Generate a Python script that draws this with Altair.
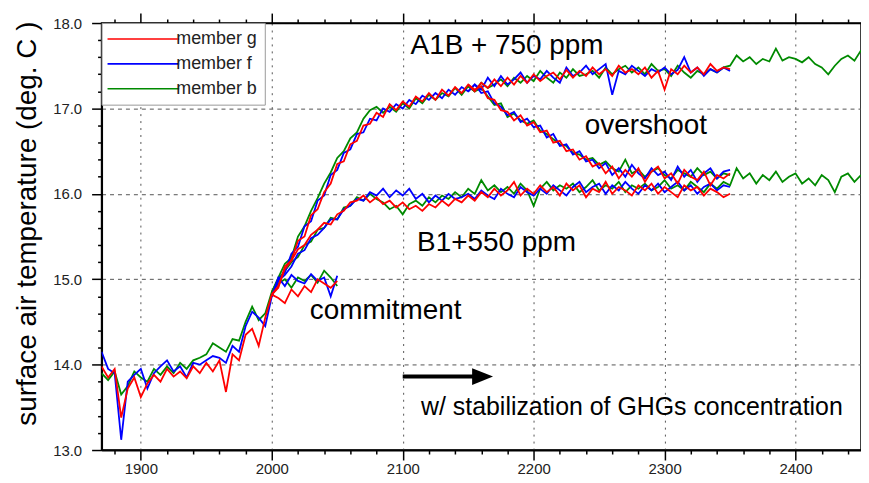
import altair as alt
import pandas as pd

# ---------------- data ----------------
member_order = ["member g", "member f", "member b"]
member_colors = ["#ff0000", "#0000ff", "#008a00"]

hist_years = list(range(1870, 2001, 5))
scen_years = list(range(2000, 2351, 5))
ext_years = list(range(2000, 2451, 5))
commit_years = list(range(2000, 2051, 5))
over_years = list(range(2150, 2351, 5))

# historical run 1870-2000
hist_g = [13.98, 13.85, 13.95, 13.38, 13.72, 13.85, 13.62, 13.78, 13.88, 13.80,
          13.95, 13.86, 13.92, 13.84, 13.98, 13.90, 14.02, 13.92, 14.05, 13.68,
          14.12, 14.05, 14.35, 14.42, 14.22, 14.55, 14.82]
hist_f = [14.15, 13.95, 13.90, 13.12, 13.80, 13.88, 13.95, 13.72, 13.90, 13.98,
          14.05, 13.92, 13.98, 13.85, 14.02, 14.00, 14.05, 14.10, 14.08, 14.02,
          14.22, 14.15, 14.45, 14.62, 14.55, 14.45, 14.80]
hist_b = [13.90, 13.82, 13.92, 13.65, 13.75, 13.92, 13.85, 13.80, 13.95, 13.88,
          13.98, 13.90, 14.02, 13.95, 14.05, 14.08, 14.12, 14.25, 14.20, 14.15,
          14.30, 14.28, 14.50, 14.68, 14.52, 14.60, 14.85]

# commitment 2000-2050
commit_g = [14.82, 14.78, 14.72, 14.88, 14.80, 14.92, 14.85, 15.00, 14.95, 14.90, 14.98]
commit_f = [14.80, 15.02, 14.92, 15.05, 14.98, 14.95, 15.06, 14.98, 15.02, 14.80, 15.04]
commit_b = [14.85, 14.95, 15.00, 14.90, 15.02, 14.98, 15.05, 14.96, 15.10, 15.02, 14.92]

# A1B + 750 ppm 2000-2350 (member b to 2450)
a1b_g = [14.82, 14.90, 15.15, 15.22, 15.45, 15.50, 15.75, 15.82, 16.02, 16.12,
         16.35, 16.38, 16.58, 16.62, 16.80, 16.82, 16.95, 16.90, 17.05, 16.98,
         17.08, 17.02, 17.14, 17.08, 17.18, 17.10, 17.22, 17.15, 17.25, 17.18,
         17.28, 17.20, 17.30, 17.24, 17.34, 17.26, 17.36, 17.28, 17.38, 17.30,
         17.40, 17.32, 17.38, 17.42, 17.34, 17.45, 17.36, 17.44, 17.38, 17.48,
         17.40, 17.46, 17.38, 17.50, 17.42, 17.46, 17.40, 17.48, 17.36, 17.44,
         17.22, 17.46, 17.40, 17.50, 17.42, 17.48, 17.40, 17.52, 17.44, 17.48,
         17.46]
a1b_f = [14.80, 15.00, 15.08, 15.30, 15.38, 15.62, 15.68, 15.92, 15.98, 16.22,
         16.28, 16.48, 16.52, 16.70, 16.72, 16.88, 16.86, 17.00, 16.96, 17.05,
         17.00, 17.10, 17.05, 17.15, 17.10, 17.18, 17.12, 17.22, 17.16, 17.25,
         17.20, 17.28, 17.22, 17.36, 17.26, 17.38, 17.28, 17.34, 17.42, 17.30,
         17.38, 17.34, 17.44, 17.36, 17.30, 17.48, 17.38, 17.42, 17.50, 17.40,
         17.46, 17.52, 17.16, 17.44, 17.40, 17.50, 17.44, 17.38, 17.46, 17.42,
         17.48, 17.40, 17.45, 17.60, 17.42, 17.48, 17.38, 17.46, 17.42, 17.48,
         17.44]
a1b_b = [14.85, 15.02, 15.18, 15.25, 15.50, 15.62, 15.80, 15.95, 16.12, 16.25,
         16.42, 16.50, 16.65, 16.72, 16.88, 16.98, 17.02, 16.95, 17.02, 16.96,
         17.06, 17.00, 17.12, 17.06, 17.16, 17.10, 17.18, 17.14, 17.24, 17.16,
         17.26, 17.20, 17.30, 17.24, 17.28, 17.34, 17.26, 17.36, 17.30, 17.38,
         17.32, 17.44, 17.36, 17.30, 17.42, 17.36, 17.46, 17.38, 17.40, 17.44,
         17.36, 17.48, 17.40, 17.46, 17.50, 17.42, 17.48, 17.40, 17.52, 17.44,
         17.46, 17.38, 17.50, 17.42, 17.36, 17.44, 17.40, 17.46, 17.42, 17.48,
         17.50, 17.62, 17.55, 17.60, 17.52, 17.58, 17.55, 17.70, 17.56, 17.60,
         17.58, 17.54, 17.60, 17.52, 17.48, 17.40, 17.50, 17.58, 17.62, 17.56,
         17.68]

# B1 + 550 ppm 2000-2350 (member b to 2450)
b1_g = [14.82, 14.92, 15.12, 15.22, 15.35, 15.40, 15.52, 15.58, 15.66, 15.64,
        15.76, 15.80, 15.90, 15.92, 15.98, 15.90, 15.96, 15.88, 15.92, 15.84,
        15.90, 15.82, 15.86, 15.80, 15.88, 15.84, 15.92, 15.86, 15.94, 15.90,
        15.98, 15.92, 16.02, 15.96, 16.06, 15.98, 16.04, 16.14, 15.98, 16.06,
        16.00, 16.10, 16.02, 16.08, 15.98, 16.12, 16.04, 16.10, 15.96, 16.06,
        16.02, 16.14, 16.00, 16.08, 16.04, 15.98, 16.10, 16.04, 16.12, 16.00,
        16.08, 16.02, 15.96, 16.10, 16.04, 16.08, 15.98, 16.06, 16.02, 15.96,
        16.00]
b1_f = [14.80, 14.98, 15.05, 15.15, 15.30, 15.34, 15.48, 15.52, 15.60, 15.70,
        15.70, 15.82, 15.86, 15.94, 15.92, 16.02, 15.98, 16.06, 15.96, 16.04,
        15.98, 16.06, 15.94, 16.00, 15.90, 15.98, 15.92, 16.00, 15.94, 15.96,
        16.00, 15.94, 16.04, 15.98, 15.94, 16.06, 16.00, 15.96, 16.08, 16.02,
        15.98, 16.06, 16.00, 16.10, 16.04, 15.98, 16.08, 16.14, 16.02, 16.08,
        16.12, 16.00, 16.10, 16.04, 16.14, 16.06, 16.00, 16.10, 16.04, 16.12,
        16.02, 16.08, 16.14, 16.04, 16.10, 16.00, 16.08, 16.12, 16.04, 16.10,
        16.08]
b1_b = [14.85, 15.00, 15.10, 15.20, 15.26, 15.40, 15.44, 15.58, 15.60, 15.72,
        15.70, 15.84, 15.86, 15.96, 15.92, 16.00, 15.94, 15.90, 15.82, 15.86,
        15.76, 15.88, 15.92, 15.86, 15.96, 15.90, 15.98, 15.94, 16.02, 15.96,
        16.06, 16.00, 16.16, 16.04, 16.10, 16.02, 16.08, 16.00, 16.12, 16.04,
        15.86, 16.06, 16.14, 16.04, 16.10, 16.06, 16.12, 16.02, 16.08, 16.16,
        16.04, 16.10, 16.06, 16.14, 16.02, 16.10, 16.06, 16.12, 16.04, 16.08,
        16.16, 16.06, 16.10, 16.04, 16.14, 16.08, 16.02, 16.12, 16.06, 16.14,
        16.10, 16.30, 16.18, 16.24, 16.12, 16.22, 16.16, 16.26, 16.14, 16.20,
        16.24, 16.12, 16.18, 16.10, 16.22, 16.16, 16.02, 16.20, 16.24, 16.14,
        16.22]

# overshoot 2150-2350
over_g = [17.28, 17.22, 17.26, 17.12, 17.10, 16.98, 16.96, 16.86, 16.92, 16.80,
          16.84, 16.72, 16.74, 16.60, 16.62, 16.50, 16.52, 16.40, 16.44, 16.32,
          16.36, 16.24, 16.32, 16.18, 16.28, 16.20, 16.30, 16.14, 16.26, 16.32,
          16.18, 16.24, 16.12, 16.28, 16.20, 16.16, 16.26, 16.10, 16.22, 16.18,
          16.24]
over_f = [17.20, 17.28, 17.18, 17.20, 17.06, 17.02, 16.92, 16.96, 16.84, 16.88,
          16.78, 16.80, 16.66, 16.70, 16.56, 16.58, 16.46, 16.50, 16.38, 16.40,
          16.30, 16.36, 16.22, 16.30, 16.20, 16.34, 16.24, 16.18, 16.30, 16.22,
          16.26, 16.16, 16.32, 16.20, 16.28, 16.14, 16.24, 16.30, 16.18, 16.26,
          16.28]
over_b = [17.26, 17.20, 17.24, 17.14, 17.04, 17.06, 16.90, 16.94, 16.86, 16.82,
          16.86, 16.74, 16.70, 16.64, 16.58, 16.56, 16.48, 16.46, 16.40, 16.42,
          16.34, 16.38, 16.30, 16.26, 16.40, 16.24, 16.28, 16.20, 16.26, 16.30,
          16.22, 16.18, 16.28, 16.24, 16.20, 16.30, 16.22, 16.26, 16.18, 16.24,
          16.22]

# annotations
ann_text = ["A1B + 750 ppm", "overshoot", "B1+550 ppm", "commitment",
            "w/ stabilization of GHGs concentration"]
ann_year = [2106, 2239, 2111, 2029, 2114]
ann_temp = [17.64, 16.70, 15.33, 14.54, 13.41]
ann_size = [28, 28, 28, 28, 25]

arrow_year = [2100]
arrow_year2 = [2156]
arrow_temp = [13.86]
head_year = [2161]

# axis ticks
x_major = [1900, 2000, 2100, 2200, 2300, 2400]
x_minor = [1880, 1920, 1940, 1960, 1980, 2020, 2040, 2060, 2080, 2120, 2140, 2160,
           2180, 2220, 2240, 2260, 2280, 2320, 2340, 2360, 2380, 2420, 2440]
y_major = [13.0, 14.0, 15.0, 16.0, 17.0, 18.0]
y_minor = [13.2, 13.4, 13.6, 13.8, 14.2, 14.4, 14.6, 14.8, 15.2, 15.4, 15.6, 15.8,
           16.2, 16.4, 16.6, 16.8, 17.2, 17.4, 17.6, 17.8]

# ---------------- table ----------------
rows = []


def add(member, seg, years, vals):
    assert len(years) == len(vals), (member, seg, len(years), len(vals))
    for yr, v in zip(years, vals):
        rows.append({"year": yr, "temp": v, "member": member, "seg": member + "-" + seg})


# draw order: b (green) first, then f (blue), then g (red) on top
for m, h, c, a, b, o in [
    ("member b", hist_b, commit_b, a1b_b, b1_b, over_b),
    ("member f", hist_f, commit_f, a1b_f, b1_f, over_f),
    ("member g", hist_g, commit_g, a1b_g, b1_g, over_g),
]:
    add(m, "hist", hist_years, h)
    add(m, "commit", commit_years, c)
    add(m, "a1b", ext_years if len(a) == len(ext_years) else scen_years, a)
    add(m, "b1", ext_years if len(b) == len(ext_years) else scen_years, b)
    add(m, "over", over_years, o)

df = pd.DataFrame(rows)
ann = pd.DataFrame({"text": ann_text, "year": ann_year, "temp": ann_temp, "size": ann_size})
arrow = pd.DataFrame({"year": arrow_year, "year2": arrow_year2, "temp": arrow_temp})
head = pd.DataFrame({"year": head_year, "temp": arrow_temp})

# ---------------- scales & axes ----------------
FONT = "Liberation Sans"
x_scale = alt.Scale(domain=[1870, 2450], nice=False, zero=False)
y_scale = alt.Scale(domain=[13, 18], nice=False, zero=False)

common = dict(domainColor="black", tickColor="black", tickWidth=1.5)

x_bottom_major = alt.Axis(
    orient="bottom", values=x_major, format="d", title=None, tickSize=10,
    grid=True, gridDash=[2, 5], gridColor="#555555", gridWidth=1,
    labelFont=FONT, labelFontSize=15, labelColor="#222222", labelPadding=2,
    domainWidth=2, **common,
)
x_bottom_minor = alt.Axis(
    orient="bottom", values=x_minor, title=None, tickSize=4, labels=False,
    grid=False, domain=False, **common,
)
x_top_major = alt.Axis(
    orient="top", values=x_major, title=None, tickSize=10, labels=False,
    grid=False, domainWidth=1.5, **common,
)
x_top_minor = alt.Axis(
    orient="top", values=x_minor, title=None, tickSize=4, labels=False,
    grid=False, domain=False, **common,
)
y_left_major = alt.Axis(
    orient="left", values=y_major, format=".1f",
    title="surface air temperature (deg. C )", tickSize=10,
    grid=True, gridDash=[4, 4], gridColor="#555555", gridWidth=1,
    labelFont=FONT, labelFontSize=15, labelColor="#222222", labelPadding=10,
    titleFont=FONT, titleFontSize=28, titleFontWeight="normal", titleColor="black",
    titlePadding=11, titleY=201, domainWidth=2, **common,
)
y_left_minor = alt.Axis(
    orient="left", values=y_minor, title=None, tickSize=4, labels=False,
    grid=False, domain=False, **common,
)

legend = alt.Legend(
    title=None, orient="top-left", offset=0, padding=7,
    strokeColor="#999999", fillColor="white",
    symbolType="M-8,0H8", symbolSize=81, symbolStrokeWidth=1.6,
    symbolOffset=26, labelOffset=24, rowPadding=7,
    labelFont=FONT, labelFontSize=18, labelColor="#222222",
)

lines = alt.Chart(df).mark_line(strokeWidth=1.8, clip=True).encode(
    x=alt.X("year:Q", scale=x_scale, axis=x_bottom_major),
    y=alt.Y("temp:Q", scale=y_scale, axis=y_left_major),
    color=alt.Color("member:N", scale=alt.Scale(domain=member_order, range=member_colors),
                    legend=legend),
    detail="seg:N",
    order="year:Q",
)

texts = alt.Chart(ann).mark_text(align="left", baseline="alphabetic", font=FONT,
                                 color="black").encode(
    x=alt.X("year:Q", scale=x_scale, axis=x_top_major),
    y=alt.Y("temp:Q", scale=y_scale, axis=y_left_minor),
    text="text:N",
    size=alt.Size("size:Q", scale=None),
)

arrow_line = alt.Chart(arrow).mark_rule(strokeWidth=4, color="black").encode(
    x=alt.X("year:Q", scale=x_scale, axis=x_bottom_minor),
    x2="year2:Q",
    y=alt.Y("temp:Q", scale=y_scale, axis=None),
)

arrow_head = alt.Chart(head).mark_point(shape="M-1,-0.8L1,0L-1,0.8Z", filled=True,
                                        size=441, color="black", opacity=1).encode(
    x=alt.X("year:Q", scale=x_scale, axis=x_top_minor),
    y=alt.Y("temp:Q", scale=y_scale, axis=None),
)

chart = alt.layer(lines, texts, arrow_line, arrow_head).resolve_axis(
    x="independent", y="independent"
).properties(
    width=763, height=429,
    padding={"left": 5, "top": 3, "right": 0, "bottom": 0},
    background="white",
).configure_view(stroke="black", strokeWidth=1.5)

chart.save("out.html", embed_options={"renderer": "svg", "actions": False})
